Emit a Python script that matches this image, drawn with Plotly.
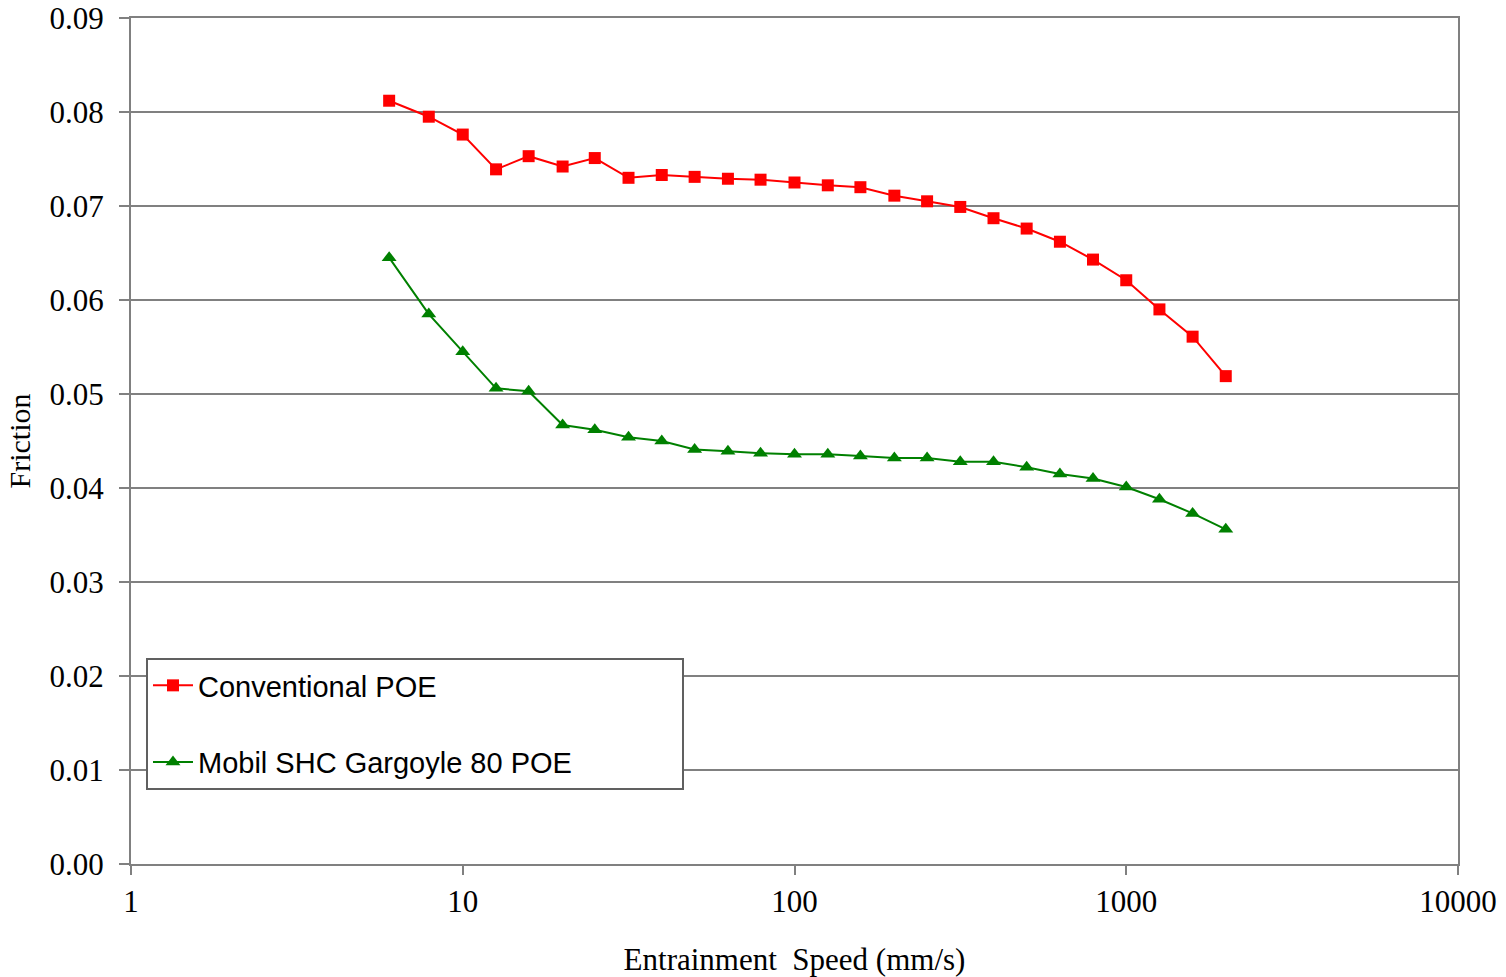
import plotly.graph_objects as go

speed = [6.0, 7.9, 10, 12.6, 15.8, 20, 25, 31.6, 39.8, 50, 63, 79, 100, 126, 158,
         200, 251, 316, 398, 501, 631, 794, 1000, 1259, 1585, 1995]
conventional = [0.0812, 0.0795, 0.0776, 0.0739, 0.0753, 0.0742, 0.0751, 0.0730, 0.0733,
                0.0731, 0.0729, 0.0728, 0.0725, 0.0722, 0.0720, 0.0711, 0.0705, 0.0699,
                0.0687, 0.0676, 0.0662, 0.0643, 0.0621, 0.0590, 0.0561, 0.0519]
mobil = [0.0645, 0.0585, 0.0545, 0.0506, 0.0503, 0.0467, 0.0462, 0.0454, 0.0450,
         0.0441, 0.0439, 0.0437, 0.0436, 0.0436, 0.0434, 0.0432, 0.0432, 0.0428,
         0.0428, 0.0422, 0.0415, 0.0410, 0.0401, 0.0388, 0.0373, 0.0356]

x_tickvals = [1, 10, 100, 1000, 10000]
x_ticktext = ["1", "10", "100", "1000", "10000"]
y_tickvals = [0.00, 0.01, 0.02, 0.03, 0.04, 0.05, 0.06, 0.07, 0.08, 0.09]
y_ticktext = ["0.00", "0.01", "0.02", "0.03", "0.04", "0.05", "0.06", "0.07", "0.08", "0.09"]

serif = "Liberation Serif"
sans = "Liberation Sans"
grey = "#808080"
pad = "\u00a0" * 13

fig = go.Figure()
fig.add_trace(go.Scatter(
    x=speed, y=conventional, mode="lines+markers", name="Conventional POE",
    legendgroup="a",
    line=dict(color="#FF0000", width=2),
    marker=dict(symbol="square", size=12, color="#FF0000"),
))
fig.add_trace(go.Scatter(
    x=speed, y=mobil, mode="lines+markers", name="Mobil SHC Gargoyle 80 POE" + pad,
    legendgroup="b",
    line=dict(color="#008000", width=2),
    marker=dict(symbol="triangle-up", size=13, color="#008000"),
))

fig.update_layout(
    width=1506, height=977,
    margin=dict(l=131, r=48, t=18, b=113, autoexpand=False),
    paper_bgcolor="white", plot_bgcolor="white",
    font=dict(family=serif, size=30, color="black"),
    showlegend=True,
    legend=dict(
        x=0.0113, y=0.2435, xanchor="left", yanchor="top",
        bgcolor="white", bordercolor="#606060", borderwidth=2,
        font=dict(family=sans, size=29, color="black"),
        tracegroupgap=36, itemwidth=40,
    ),
    xaxis=dict(
        type="log", range=[0, 4], automargin=False,
        tickmode="array", tickvals=x_tickvals, ticktext=x_ticktext,
        tickfont=dict(family=serif, size=31, color="black"),
        ticklabeloverflow="allow",
        ticks="outside", ticklen=9, tickcolor=grey, tickwidth=2,
        showline=True, linecolor=grey, linewidth=2, mirror=True,
        showgrid=False, zeroline=False,
        title=dict(text="Entrainment\u00a0\u00a0Speed (mm/s)",
                   font=dict(family=serif, size=31, color="black"), standoff=33),
    ),
    yaxis=dict(
        range=[0, 0.09], automargin=False,
        tickmode="array", tickvals=y_tickvals, ticktext=y_ticktext,
        tickfont=dict(family=serif, size=31, color="black"),
        ticklabeloverflow="allow", ticklabelstandoff=9,
        ticks="outside", ticklen=10, tickcolor=grey, tickwidth=2,
        showline=True, linecolor=grey, linewidth=2, mirror=True,
        showgrid=True, gridcolor=grey, gridwidth=1.5, zeroline=False,
        title=dict(text="Friction",
                   font=dict(family=serif, size=30, color="black"), standoff=10),
    ),
)

fig.write_html("out.html", config={"displayModeBar": False},
               post_script="document.body.style.margin='0';")
